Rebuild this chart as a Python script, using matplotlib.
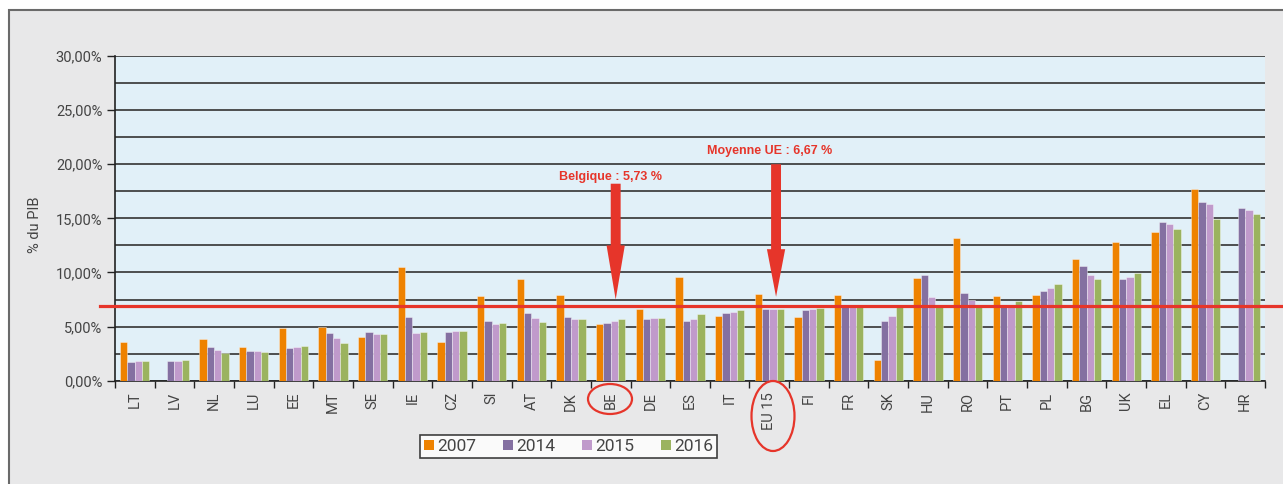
import numpy as np
import matplotlib
matplotlib.use("Agg")
import matplotlib.pyplot as plt
from matplotlib.patches import Rectangle, Ellipse, FancyArrow
from matplotlib.lines import Line2D
import matplotlib.transforms as mtransforms

# --- data (% du PIB) ---
countries = ["LT", "LV", "NL", "LU", "EE", "MT", "SE", "IE", "CZ", "SI", "AT", "DK",
             "BE", "DE", "ES", "IT", "EU 15", "FI", "FR", "SK", "HU", "RO", "PT", "PL",
             "BG", "UK", "EL", "CY", "HR"]
y2007 = [3.56, np.nan, 3.81, 3.10, 4.88, 4.94, 4.02, 10.49, 3.56, 7.79, 9.42, 7.91,
         5.22, 6.60, 9.54, 6.02, 8.04, 5.92, 7.91, 1.90, 9.51, 13.15, 7.84, 7.93,
         11.27, 12.81, 13.77, 17.75, np.nan]
y2014 = [1.69, 1.81, 3.10, 2.76, 2.98, 4.39, 4.48, 5.92, 4.51, 5.56, 6.26, 5.92,
         5.34, 5.68, 5.56, 6.26, 6.60, 6.50, 6.95, 5.56, 9.72, 8.09, 6.98, 8.30,
         10.56, 9.38, 14.69, 16.48, 15.99]
y2015 = [1.81, 1.81, 2.86, 2.76, 3.10, 3.93, 4.27, 4.39, 4.63, 5.22, 5.77, 5.68,
         5.56, 5.80, 5.68, 6.38, 6.60, 6.60, 6.90, 5.97, 7.72, 7.47, 6.98, 8.55,
         9.81, 9.60, 14.44, 16.36, 15.77]
y2016 = [1.81, 1.93, 2.55, 2.64, 3.22, 3.47, 4.27, 4.51, 4.63, 5.31, 5.46, 5.68,
         5.68, 5.80, 6.14, 6.50, 6.60, 6.75, 6.90, 6.79, 6.85, 6.80, 7.35, 8.92,
         9.38, 9.97, 13.98, 14.94, 15.40]
years = ["2007", "2014", "2015", "2016"]
series = [y2007, y2014, y2015, y2016]
colors = ["#ee8200", "#8470a1", "#c09acb", "#9bb35f"]

eu_line = 6.92
be_label = "Belgique : 5,73 %"
eu_label = "Moyenne UE : 6,67 %"

red = "#e6352a"
txt = "#444444"
plt.rcParams["font.family"] = ["Roboto", "DejaVu Sans"]

W, H = 1283, 484
fig = plt.figure(figsize=(W / 100, H / 100), dpi=100, facecolor="white")

# outer grey panel (behind the axes)
fig.patches.append(Rectangle((9 / W, -0.1), 1.2, (H - 10) / H + 0.1,
                             transform=fig.transFigure, facecolor="#e8e8e9",
                             edgecolor="#6a6a6a", lw=1.5, zorder=-5))

ax = fig.add_axes([115 / W, (H - 380.7) / H, (1265 - 115) / W, (380.7 - 56) / H])
ax.set_facecolor("#e1f0f8")

x = np.arange(len(countries))
bw = 0.185
for k, (vals, c, lab) in enumerate(zip(series, colors, years)):
    ax.bar(x + (k - 1.5) * bw, vals, width=bw, color=c, label=lab,
           edgecolor=(1, 1, 1, 0.45), linewidth=0.6, zorder=3)

ax.set_xlim(-0.5, len(countries) - 0.5)
ax.set_ylim(0, 30)

# y axis
ax.set_yticks(np.arange(0, 31, 5))
ax.set_yticklabels([f"{v:.2f}%".replace(".", ",") for v in np.arange(0, 31, 5)])
ax.set_yticks(np.arange(0, 31, 2.5), minor=True)
ax.grid(axis="y", which="both", color="#333333", lw=1.2, zorder=1)
ax.set_axisbelow(True)
ax.tick_params(axis="y", which="major", direction="out", length=6, width=1,
               color="#222222", labelsize=10.5, labelcolor=txt, pad=3)
ax.tick_params(axis="y", which="minor", length=0)

# x axis: labels at centres, tick marks at boundaries
ax.set_xticks(x)
ax.set_xticklabels(countries, rotation=90, va="top", ha="center")
ax.set_xticks(np.arange(-0.5, len(countries), 1), minor=True)
ax.tick_params(axis="x", which="major", length=0, labelsize=10.5, labelcolor=txt, pad=8)
ax.tick_params(axis="x", which="minor", direction="out", length=5, width=1, color="#222222")

for s in ["top", "right"]:
    ax.spines[s].set_visible(False)
ax.spines["left"].set_color("#222222")
ax.spines["bottom"].set_color("#222222")
ax.spines["left"].set_linewidth(1.2)
ax.spines["bottom"].set_linewidth(1.2)

# EU average line, running past the axes
tr = mtransforms.blended_transform_factory(fig.transFigure, ax.transData)
fig.lines.append(Line2D([100 / W, 1.0], [eu_line, eu_line], transform=tr,
                        color=red, lw=2.3, zorder=5))

# arrows
be_i = countries.index("BE")
eu_i = countries.index("EU 15")
ax.add_patch(FancyArrow(be_i + 0.126, 18.2, 0, 7.5 - 18.2, width=0.25,
                        head_width=0.46, head_length=5.0, length_includes_head=True,
                        color=red, lw=0, zorder=6))
ax.add_patch(FancyArrow(eu_i + 0.17, 20.0, 0, 7.75 - 20.0, width=0.25,
                        head_width=0.46, head_length=4.4, length_includes_head=True,
                        color=red, lw=0, zorder=6))
ax.text(be_i, 18.8, be_label, color=red, fontsize=9, fontweight="bold",
        family="Liberation Sans", ha="center", va="center", zorder=7)
ax.text(eu_i, 21.2, eu_label, color=red, fontsize=9, fontweight="bold",
        family="Liberation Sans", ha="center", va="center", zorder=7)

# circles around BE and EU 15 labels
fig.patches.append(Ellipse((610 / W, (H - 399) / H), 44 / W, 30 / H,
                           transform=fig.transFigure, fill=False, edgecolor=red, lw=1.6))
fig.patches.append(Ellipse((773 / W, (H - 416) / H), 43 / W, 70 / H,
                           transform=fig.transFigure, fill=False, edgecolor=red, lw=1.6))

fig.text(35 / W, (H - 225) / H, "% du PIB", rotation=90, ha="center", va="center",
         fontsize=10.5, color=txt)

handles = [Line2D([], [], marker="s", ls="", markersize=6.5, color=c,
                  markeredgewidth=0) for c in colors]
leg = fig.legend(handles, years, loc="center", bbox_to_anchor=(568.5 / W, (H - 446.5) / H),
                 ncol=4, frameon=True, fancybox=False, fontsize=12.5, handlelength=0.6,
                 handletextpad=0.15, columnspacing=1.55, borderpad=0.25,
                 labelcolor=txt)
leg.get_frame().set_edgecolor("#111111")
leg.get_frame().set_linewidth(1.2)
leg.get_frame().set_facecolor("white")

fig.savefig("out.png", dpi=100, facecolor=fig.get_facecolor())
